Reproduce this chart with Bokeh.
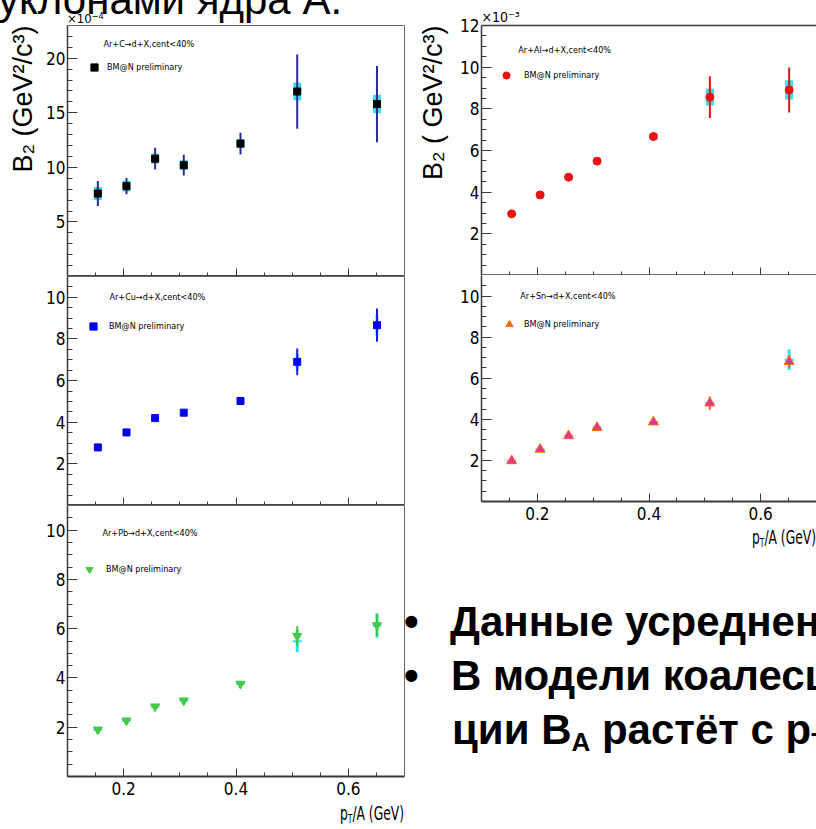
from bokeh.plotting import figure
from bokeh.models import (ColumnDataSource, FixedTicker, Label, Legend, LegendItem,
                          Range1d, LinearAxis, Title, Div)
from bokeh.layouts import row, column
from bokeh.embed import file_html
from bokeh.resources import INLINE

# ---------------- data ----------------
x_bins = [0.154, 0.205, 0.256, 0.307, 0.408, 0.509, 0.651]

c_y     = [7.6, 8.28, 10.8, 10.2, 12.18, 16.95, 15.8]        # x1e-4
c_err   = [1.15, 0.75, 1.0, 0.95, 1.0, 3.4, 3.5]
c_sys   = [0.6, 0.5, 0.45, 0.45, 0.4, 0.8, 0.85]

al_y    = [2.96, 3.87, 4.72, 5.49, 6.67, 8.56, 8.91]          # x1e-3
al_err  = [0.1, 0.12, 0.15, 0.15, 0.18, 1.0, 1.08]
al_sys  = [0.08, 0.1, 0.12, 0.12, 0.15, 0.4, 0.46]

cu_y    = [2.79, 3.51, 4.2, 4.46, 5.02, 6.9, 8.66]
cu_err  = [0.1, 0.1, 0.12, 0.12, 0.15, 0.64, 0.8]
cu_sys  = [0.08, 0.1, 0.1, 0.1, 0.12, 0.4, 0.5]

sn_y    = [1.98, 2.54, 3.2, 3.6, 3.87, 4.79, 6.81]
sn_err  = [0.08, 0.1, 0.1, 0.12, 0.12, 0.32, 0.3]
sn_sys_y = [1.98, 2.54, 3.2, 3.6, 3.87, 4.79, 6.9]
sn_sys  = [0.05, 0.05, 0.05, 0.05, 0.05, 0.1, 0.5]

pb_y    = [1.9, 2.27, 2.84, 3.08, 3.76, 5.7, 6.14]
pb_err  = [0.08, 0.1, 0.1, 0.12, 0.12, 0.4, 0.45]
pb_sys_y = [1.9, 2.27, 2.84, 3.08, 3.76, 5.49, 6.13]
pb_sys  = [0.05, 0.05, 0.05, 0.05, 0.05, 0.45, 0.5]

x_major = [0.2, 0.4, 0.6]
x_minor = [0.15, 0.25, 0.3, 0.35, 0.45, 0.5, 0.55, 0.65]

header_c = "Ar+C→d+X,cent<40%"
header_al = "Ar+Al→d+X,cent<40%"
header_cu = "Ar+Cu→d+X,cent<40%"
header_sn = "Ar+Sn→d+X,cent<40%"
header_pb = "Ar+Pb→d+X,cent<40%"
entry = "BM@N preliminary"
ytitle_left = "B₂ (GeV²/c³)"
ytitle_right = "B₂ ( GeV²/c³)"
exp_right = "×10⁻³"

FONT_N = "'Liberation Sans Narrow', 'DejaVu Sans Condensed', 'Liberation Sans', sans-serif"
FONT_S = "'Liberation Sans', Arial, sans-serif"
CYAN = "#2fe2ec"
AXC = "#3a3a3a"


def conv(geo, px, py):
    fl, fr, ft, fb, x0, x1, y0, y1 = geo
    x = x0 + (px - fl) * (x1 - x0) / (fr - fl)
    y = y0 + (fb - py) * (y1 - y0) / (fb - ft)
    return x, y


def add_label(p, geo, px, py, text, size, font=FONT_N, align="left", baseline="middle"):
    x, y = conv(geo, px, py)
    p.add_layout(Label(x=x, y=y, text=text, text_font_size=f"{size}px",
                       text_font=font, text_align=align, text_baseline=baseline,
                       text_color="black"))


def panel(width, height, ml, mr, mt, mb, ymax, ymaj, ymin, xlabels, outline=True):
    p = figure(width=width, height=height, x_range=Range1d(0.1, 0.7),
               y_range=Range1d(0, ymax), output_backend="svg", toolbar_location=None,
               min_border_left=ml, min_border_right=mr, min_border_top=mt,
               min_border_bottom=mb)
    p.grid.visible = False
    p.background_fill_color = "white"
    p.border_fill_color = "white"
    p.outline_line_color = "#666666" if outline else None
    p.outline_line_width = 1
    for ax in p.xaxis:
        ax.axis_line_color = AXC
        ax.axis_line_width = 2
        ax.major_tick_line_color = AXC
        ax.minor_tick_line_color = AXC
        ax.major_tick_in = 8
        ax.major_tick_out = 0
        ax.minor_tick_in = 4
        ax.minor_tick_out = 0
        ax.major_label_text_font = FONT_N
        ax.major_label_text_color = "black"
        if xlabels:
            ax.ticker = FixedTicker(ticks=x_major, minor_ticks=x_minor)
            ax.major_label_text_font_size = "17px"
            ax.major_label_standoff = 5
        else:
            # no labels: long ticks through a second label-less axis
            ax.ticker = FixedTicker(ticks=[], minor_ticks=x_minor)
            ax.major_label_standoff = 0
            ax2 = LinearAxis(ticker=FixedTicker(ticks=[], minor_ticks=x_major),
                             axis_line_color=AXC, axis_line_width=2,
                             minor_tick_line_color=AXC, minor_tick_in=8,
                             minor_tick_out=0, major_tick_in=0, major_tick_out=0,
                             major_label_standoff=0)
            p.add_layout(ax2, "below")
    for ax in p.yaxis:
        ax.ticker = FixedTicker(ticks=ymaj, minor_ticks=ymin)
        ax.axis_line_color = AXC
        ax.axis_line_width = 1.5
        ax.major_tick_line_color = AXC
        ax.minor_tick_line_color = AXC
        ax.major_tick_in = 10
        ax.major_tick_out = 0
        ax.minor_tick_in = 5
        ax.minor_tick_out = 0
        ax.major_label_text_font = FONT_N
        ax.major_label_text_font_size = "17px"
        ax.major_label_text_color = "black"
        ax.major_label_standoff = 2
    return p


def draw(p, y, err, sys_y, sys, ecol, marker, size, fill, line, sys_w, cross=False):
    src = ColumnDataSource(dict(
        x=x_bins, y=y,
        lo=[a - b for a, b in zip(y, err)], hi=[a + b for a, b in zip(y, err)],
        sy=sys_y, sh=[2 * s for s in sys]))
    p.rect(x="x", y="sy", width=sys_w, width_units="screen", height="sh",
           source=src, fill_color=CYAN, line_color=None)
    if cross:
        p.rect(x="x", y="sy", width=9, width_units="screen", height=2,
               height_units="screen", source=src, fill_color=CYAN, line_color=None)
    p.segment(x0="x", y0="lo", x1="x", y1="hi", source=src, line_color=ecol,
              line_width=2)
    r = p.scatter(x="x", y="y", marker=marker, size=size, fill_color=fill,
                  line_color=line, source=src)
    return r


def add_legend(p, geo, renderer, mx, my, text_x, header, hx, hy):
    fl, fr, ft, fb = geo[:4]
    box = 18
    leg = Legend(items=[LegendItem(label=entry, renderers=[renderer])],
                 location=(mx - box / 2 - fl, fb - (my + box / 2)),
                 glyph_width=box, glyph_height=box, label_height=box, label_width=10,
                 label_standoff=int(text_x - (mx + box / 2)), padding=0, margin=0,
                 spacing=0, border_line_color=None, background_fill_alpha=0,
                 label_text_font=FONT_N, label_text_font_size="9px",
                 label_text_color="black")
    p.add_layout(leg)
    add_label(p, geo, hx, hy, header, 9)


def ytitle(p, text, standoff):
    p.add_layout(Title(text=text, align="right", text_font=FONT_S, text_font_size="27px",
                       text_font_style="normal", text_color="black", standoff=standoff),
                 "left")


def div(html, w, h):
    return Div(text=f'<div style="position:relative;width:{w}px;height:{h}px;'
                    f'overflow:hidden;background:white">{html}</div>',
               width=w, height=h, margin=(0, 0, 0, 0))


def span(text, left=None, right=None, top=0, size=17, font=FONT_N, weight="normal",
         extra=""):
    pos = f"left:{left}px;" if left is not None else f"right:{right}px;"
    return (f'<span style="position:absolute;{pos}top:{top}px;white-space:nowrap;'
            f'font-family:{font};font-size:{size}px;'
            f'font-weight:{weight};line-height:1;color:black;{extra}">{text}</span>')


SUB = '<span style="font-size:0.62em;vertical-align:-0.28em">{}</span>'
SUP = '<span style="font-size:0.7em;vertical-align:0.45em">{}</span>'
NARROW = "transform:scaleX(0.72);transform-origin:right center"

y_c_min = [v for v in range(1, 23) if v % 5 != 0]
y11_maj = [2, 4, 6, 8, 10]
y11_min = [v / 2 for v in range(1, 22) if v % 4 != 0]
y12_maj = [2, 4, 6, 8, 10, 12]
y12_min = [v / 2 for v in range(1, 24) if v % 4 != 0]

# frame geometries in page pixels: left, right, top, bottom, x0, x1, y0, y1
G_C = (67, 404, 25, 276, 0.1, 0.7, 0, 23)
G_CU = (67, 404, 276, 505, 0.1, 0.7, 0, 11)
G_PB = (67, 404, 505, 776, 0.1, 0.7, 0, 11)
G_AL = (479, 816, 25, 275, 0.1, 0.7, 0, 12)
G_SN = (479, 816, 275, 501, 0.1, 0.7, 0, 11)

# ---------------- left column ----------------
top_left = div(
    span("×10" + SUP.format("−4"), left=67, top=12, size=13) +
    span("уклонами ядра А.", left=-2, top=-21, size=42, font=FONT_S),
    405, 25)

pc = panel(405, 251, 67, 1, 0, 0, 23, [5, 10, 15, 20], y_c_min, False)
rc = draw(pc, c_y, c_err, c_y, c_sys, "#2c2c94", "square", 7, "black", "black", 8)
add_legend(pc, G_C, rc, 94, 67, 107, header_c, 103, 43)
ytitle(pc, ytitle_left, 11)

pcu = panel(405, 229, 67, 1, 0, 0, 11, y11_maj, y11_min, False)
rcu = draw(pcu, cu_y, cu_err, cu_y, cu_sys, "#1a1ae0", "square", 7, "#0000f0", "#0000f0", 3)
add_legend(pcu, G_CU, rcu, 93, 326, 109, header_cu, 109, 296)

ppb = panel(405, 298, 67, 1, 0, 27, 11, y11_maj, y11_min, True)
rpb = draw(ppb, pb_y, pb_err, pb_sys_y, pb_sys, "#3cc43c", "inverted_triangle", 9,
           "#48c848", "#48c848", 3, cross=True)
add_legend(ppb, G_PB, rpb, 89, 569, 106, header_pb, 102, 532)

xt_html = "p" + SUB.format("T") + "/A (GeV)"
bottom_left = div(span(xt_html, right=1, top=1, size=19, extra=NARROW), 405, 26)

# ---------------- right column ----------------
pal = panel(411, 275, 74, 0, 25, 0, 12, y12_maj, y12_min, False, outline=False)
top_ax = LinearAxis(ticker=FixedTicker(ticks=[]), axis_line_color=AXC, axis_line_width=1.5,
                    major_label_standoff=0, major_tick_in=0, major_tick_out=0,
                    minor_tick_in=0, minor_tick_out=0)
pal.add_layout(top_ax, "above")
pal.add_layout(Title(text=exp_right, align="left", text_font=FONT_N, text_font_size="14px",
                     text_font_style="normal", text_color="black", standoff=1), "above")
ral = draw(pal, al_y, al_err, al_y, al_sys, "#e01414", "circle", 8, "#ee1111", "#ee1111", 8)
add_legend(pal, G_AL, ral, 504, 75, 522, header_al, 516, 49)
ytitle(pal, ytitle_right, 20)

psn = panel(411, 251, 74, 0, 0, 25, 11, y11_maj, y11_min, True, outline=False)
rsn = draw(psn, sn_y, sn_err, sn_sys_y, sn_sys, "#e8602a", "triangle", 10,
           "#ff6a10", "#ff6a10", 3, cross=True)
psn.scatter(x=x_bins, y=sn_y, marker="triangle", size=7, fill_color="#e8329a",
            line_color="#e8329a")
add_legend(psn, G_SN, rsn, 507, 324, 522, header_sn, 518, 295)

# slide text below the right plots (div origin at page x=405, y=526)
bul = "•"
BIG = 42
slide_html = (
    span(xt_html, right=0, top=2, size=19, extra=NARROW) +
    span(bul, left=-1, top=75, size=BIG, font=FONT_S, weight="bold") +
    span("Данные усреднен", left=45, top=75, size=BIG, font=FONT_S, weight="bold") +
    span(bul, left=-1, top=129, size=BIG, font=FONT_S, weight="bold") +
    span("В модели коалесц", left=46, top=129, size=BIG, font=FONT_S, weight="bold") +
    span("ции B" + SUB.format("A") + " растёт с p" + SUB.format("T"), left=47, top=183,
         size=BIG, font=FONT_S, weight="bold")
)
slide = div(slide_html, 411, 303)

layout = row(column(top_left, pc, pcu, ppb, bottom_left), column(pal, psn, slide))

open("out.html", "w").write(file_html(layout, INLINE))
